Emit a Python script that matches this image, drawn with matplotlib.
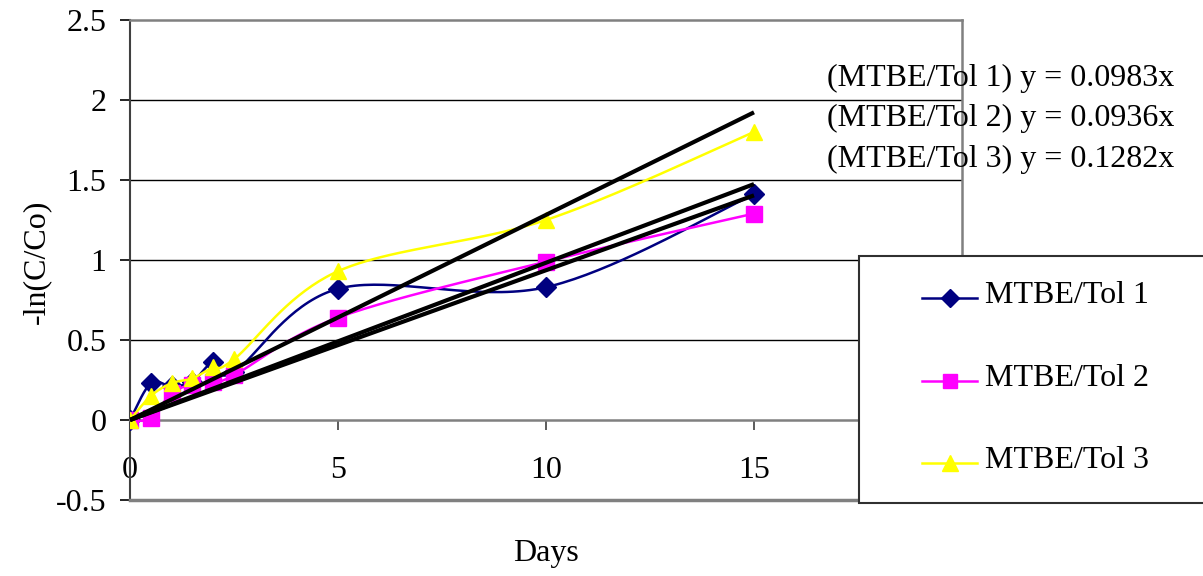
import matplotlib
matplotlib.use("Agg")
import matplotlib.pyplot as plt
from matplotlib.lines import Line2D
from matplotlib.patches import Rectangle
import numpy as np

# valeurs
days = [0, 0.5, 1, 1.5, 2, 2.5, 5, 10, 15]
tol1 = [0, 0.23, 0.21, 0.24, 0.36, 0.30, 0.82, 0.83, 1.41]
tol2 = [0, 0.01, 0.17, 0.22, 0.24, 0.28, 0.64, 0.99, 1.29]
tol3 = [0, 0.15, 0.23, 0.26, 0.33, 0.38, 0.93, 1.25, 1.80]
names = ["MTBE/Tol 1", "MTBE/Tol 2", "MTBE/Tol 3"]
slopes = [0.0983, 0.0936, 0.1282]
trend_x = [0, 15]
y_ticks = [-0.5, 0, 0.5, 1, 1.5, 2, 2.5]
y_labels = ["-0.5", "0", "0.5", "1", "1.5", "2", "2.5"]
x_ticks = [0, 5, 10, 15, 20]
x_labels = ["0", "5", "10", "15", ""]

colors = ["#000080", "#FF00FF", "#FFFF00"]
markers = ["D", "s", "^"]
msizes = [10, 11, 12]

plt.rcParams['font.family'] = ['Liberation Serif', 'DejaVu Serif']
plt.rcParams['axes.unicode_minus'] = False
FS = 23

W, H = 1203, 576


def fx(px):
    return px / W


def fy(py):
    return 1 - py / H


def smooth(xs, ys, steps=40):
    # courbe lissee facon Excel (bezier)
    p = np.column_stack([xs, ys]).astype(float)
    p = np.vstack([p[:1], p, p[-1:]])
    out = [p[1]]
    t = np.linspace(0, 1, steps)[1:, None]
    for i in range(1, len(p) - 2):
        p0, p1, p2, p3 = p[i - 1], p[i], p[i + 1], p[i + 2]
        c1 = p1 + (p2 - p0) / 6
        c2 = p2 - (p3 - p1) / 6
        seg = (1 - t) ** 3 * p1 + 3 * (1 - t) ** 2 * t * c1 + 3 * (1 - t) * t ** 2 * c2 + t ** 3 * p2
        out.extend(seg)
    out = np.array(out)
    return out[:, 0], out[:, 1]


fig = plt.figure(figsize=(W / 100, H / 100), dpi=100)
ax = fig.add_axes([fx(130), fy(500), fx(962 - 130), (500 - 20) / H])
ax.set_xlim(0, 20)
ax.set_ylim(-0.5, 2.5)

for yv in [0.5, 1, 1.5, 2]:
    ax.axhline(yv, color="black", lw=1, zorder=1)

for series, c, m, ms in zip([tol1, tol2, tol3], colors, markers, msizes):
    sx, sy = smooth(days, series)
    ax.plot(sx, sy, color=c, lw=1.8, zorder=3)
    ax.plot(days, series, ls="none", marker=m, ms=ms, color=c, mec=c, zorder=3)

for s in slopes:
    ax.plot(trend_x, [s * v for v in trend_x], color="black", lw=3, zorder=4,
            solid_capstyle="butt")

ax.spines["top"].set_color("#808080")
ax.spines["right"].set_color("#808080")
ax.spines["top"].set_linewidth(1.8)
ax.spines["right"].set_linewidth(1.8)
ax.spines["left"].set_color("#404040")
ax.spines["left"].set_linewidth(1.5)
ax.spines["bottom"].set_position(("data", 0))
ax.spines["bottom"].set_color("#808080")
ax.spines["bottom"].set_linewidth(1.8)
ax.axhline(-0.5, color="#808080", lw=2.5, zorder=5, clip_on=False)

ax.set_yticks(y_ticks)
ax.set_yticklabels(y_labels, fontsize=FS)
ax.set_xticks(x_ticks)
ax.set_xticklabels(x_labels, fontsize=FS)
ax.tick_params(axis="y", direction="out", length=7, width=1.2, pad=10)
ax.tick_params(axis="x", direction="out", length=7, width=1.2, pad=19, color="#404040")

fig.text(fx(37), fy(262), "-ln(C/Co)", rotation=90, ha="center", va="center", fontsize=FS)
fig.text(fx(546), fy(553), "Days", ha="center", va="center", fontsize=FS)

for i, (n, s) in enumerate(zip(names, slopes)):
    fig.text(fx(1174), fy(78 + 40.5 * i), f"({n}) y = {s}x", ha="right", va="center",
             fontsize=FS)

# legende dessinee a la main
fig.add_artist(Rectangle((fx(859), fy(503)), fx(360), (503 - 256) / H,
                         transform=fig.transFigure, facecolor="white",
                         edgecolor="#303030", lw=1.5, zorder=10, clip_on=False))
for i, (n, c, m, ms) in enumerate(zip(names, colors, markers, msizes)):
    yy = fy(298 + 82.5 * i)
    fig.add_artist(Line2D([fx(922), fx(977)], [yy, yy], color=c, lw=1.8,
                          transform=fig.transFigure, zorder=11))
    fig.add_artist(Line2D([fx(950)], [yy], color=c, marker=m, ms=ms - 1, mec=c,
                          transform=fig.transFigure, zorder=11))
    fig.text(fx(985), yy + 0.004, n, ha="left", va="center", fontsize=FS, zorder=12)

plt.savefig("out.png", dpi=100)
